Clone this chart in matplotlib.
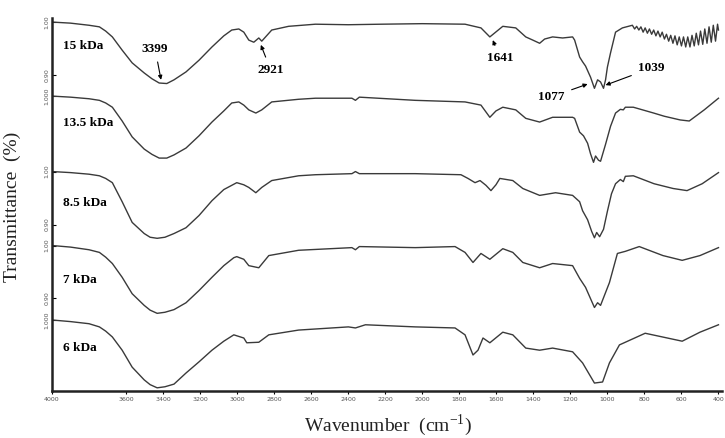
import numpy as np
import matplotlib
matplotlib.use("Agg")
import matplotlib.pyplot as plt

# FTIR spectra, transmittance (each curve normalised to 1.00 at 4000 cm-1)
wn_15 = [4000, 3900, 3800, 3744, 3710, 3674, 3621, 3567, 3502, 3460, 3421, 3380, 3341, 3276, 3206, 3136,
         3072, 3029, 2991, 2964, 2937, 2910, 2883, 2867, 2813, 2722, 2577, 2400, 2221, 2000, 1769,
         1683, 1635, 1565, 1495, 1441, 1403, 1366, 1339, 1296, 1242, 1188, 1177, 1150, 1134, 1118,
         1091, 1070, 1053, 1037, 1021, 1010, 1000, 983, 956, 919, 865,
         853, 842, 830, 819, 807, 796, 784, 773, 761, 750, 738, 727, 715, 704, 692, 681, 669,
         658, 646, 635, 623, 612, 600, 589, 577, 566, 554, 543, 531, 520, 508, 497, 485, 474,
         462, 451, 439, 428, 416, 405, 400]
t_15 = [1.000, 0.998, 0.994, 0.991, 0.983, 0.972, 0.947, 0.923, 0.904, 0.893, 0.885, 0.884, 0.891, 0.906,
        0.928, 0.953, 0.974, 0.985, 0.987, 0.981, 0.966, 0.962, 0.970, 0.964, 0.985, 0.992, 0.996, 0.995,
        0.996, 0.997, 0.996, 0.989, 0.972, 0.992, 0.989, 0.972, 0.966, 0.960, 0.968, 0.972, 0.970, 0.972,
        0.966, 0.934, 0.925, 0.917, 0.896, 0.875, 0.891, 0.887, 0.875, 0.891, 0.915, 0.942, 0.981, 0.989,
        0.994,
        0.987, 0.992, 0.985, 0.991, 0.981, 0.989, 0.979, 0.987, 0.977, 0.985, 0.974, 0.983, 0.972, 0.981, 0.968, 0.977, 0.964,
        0.975, 0.960, 0.974, 0.957, 0.972, 0.955, 0.972, 0.953, 0.972, 0.953, 0.975, 0.955, 0.979, 0.957, 0.983, 0.958, 0.987,
        0.960, 0.991, 0.962, 0.994, 0.964, 0.996, 0.985]

wn_135 = [4000, 3900, 3800, 3744, 3710, 3674, 3621, 3567, 3502, 3460, 3421, 3380, 3341, 3276, 3206,
          3136, 3072, 3029, 2991, 2964, 2937, 2899, 2867, 2813, 2668, 2577, 2380, 2361, 2340, 2038,
          1769, 1683, 1635, 1602, 1565, 1495, 1441, 1366, 1296, 1188, 1177, 1150, 1129, 1107, 1091,
          1075, 1064, 1048, 1037, 1010, 983, 956, 930, 914, 903, 860, 750, 693, 607, 558, 477, 400]
t_135 = [1.000, 0.998, 0.995, 0.992, 0.987, 0.979, 0.953, 0.923, 0.900, 0.890, 0.883, 0.883, 0.889, 0.902,
         0.925, 0.951, 0.972, 0.987, 0.989, 0.983, 0.974, 0.968, 0.974, 0.989, 0.994, 0.996, 0.996, 0.992,
         0.998, 0.992, 0.989, 0.983, 0.960, 0.972, 0.979, 0.974, 0.958, 0.951, 0.960, 0.960, 0.958, 0.932,
         0.925, 0.911, 0.891, 0.875, 0.887, 0.879, 0.877, 0.909, 0.943, 0.968, 0.975, 0.974, 0.979, 0.979,
         0.968, 0.962, 0.955, 0.953, 0.974, 0.996]

wn_85 = [4000, 3900, 3800, 3744, 3710, 3674, 3621, 3567, 3502, 3470, 3432, 3390, 3341, 3276, 3206,
         3136, 3072, 3002, 2964, 2937, 2899, 2867, 2813, 2668, 2577, 2380, 2361, 2340, 2038, 1791,
         1753, 1715, 1688, 1656, 1629, 1602, 1581, 1511, 1457, 1366, 1280, 1188, 1150, 1134, 1107,
         1085, 1070, 1058, 1042, 1021, 1000, 978, 956, 930, 914, 903, 860, 748, 645, 570, 488, 400]
t_85 = [1.000, 0.998, 0.995, 0.992, 0.987, 0.979, 0.943, 0.904, 0.883, 0.876, 0.874, 0.876, 0.883, 0.894,
        0.917, 0.945, 0.966, 0.979, 0.975, 0.970, 0.960, 0.970, 0.983, 0.992, 0.994, 0.996, 1.000, 0.996,
        0.996, 0.994, 0.987, 0.979, 0.983, 0.974, 0.964, 0.975, 0.987, 0.983, 0.968, 0.955, 0.960, 0.955,
        0.943, 0.926, 0.909, 0.887, 0.875, 0.885, 0.877, 0.891, 0.925, 0.958, 0.977, 0.985, 0.981, 0.991,
        0.992, 0.977, 0.968, 0.964, 0.977, 0.998]

wn_7 = [4000, 3900, 3800, 3744, 3710, 3674, 3621, 3567, 3502, 3470, 3432, 3390, 3341, 3276, 3206,
        3136, 3072, 3018, 3002, 2964, 2937, 2883, 2829, 2668, 2380, 2361, 2340, 2038, 1823, 1769,
        1726, 1683, 1635, 1565, 1511, 1457, 1366, 1296, 1188, 1150, 1118, 1070, 1053, 1037, 989,
        946, 903, 828, 700, 596, 500, 400]
t_7 = [1.000, 0.997, 0.992, 0.987, 0.978, 0.966, 0.940, 0.909, 0.887, 0.878, 0.872, 0.874, 0.879, 0.892,
       0.915, 0.940, 0.962, 0.977, 0.979, 0.974, 0.962, 0.958, 0.981, 0.991, 0.996, 0.992, 0.998, 0.996,
       0.998, 0.987, 0.968, 0.985, 0.974, 0.994, 0.987, 0.968, 0.958, 0.966, 0.962, 0.938, 0.921, 0.883,
       0.892, 0.887, 0.930, 0.985, 0.989, 0.998, 0.981, 0.972, 0.981, 0.996]

wn_6 = [4000, 3900, 3800, 3744, 3710, 3674, 3621, 3567, 3502, 3470, 3432, 3390, 3341, 3276, 3206,
        3136, 3072, 3018, 2964, 2948, 2883, 2829, 2668, 2399, 2361, 2307, 2038, 1823, 1769, 1726,
        1699, 1672, 1635, 1565, 1511, 1441, 1366, 1296, 1188, 1134, 1070, 1026, 989, 935, 796,
        596, 500, 400]
t_6 = [1.000, 0.997, 0.993, 0.987, 0.979, 0.968, 0.943, 0.911, 0.887, 0.878, 0.872, 0.874, 0.879, 0.900,
       0.921, 0.943, 0.960, 0.972, 0.966, 0.957, 0.958, 0.972, 0.981, 0.987, 0.985, 0.991, 0.987, 0.985,
       0.972, 0.934, 0.943, 0.966, 0.957, 0.977, 0.972, 0.947, 0.943, 0.947, 0.940, 0.919, 0.881, 0.883,
       0.919, 0.953, 0.975, 0.960, 0.977, 0.991]

labels = ["15 kDa", "13.5 kDa", "8.5 kDa", "7 kDa", "6 kDa"]
wavenumbers = [wn_15, wn_135, wn_85, wn_7, wn_6]
transmittance = [t_15, t_135, t_85, t_7, t_6]
ytick_text = [["1.00", "0.90"], ["1.000"], ["1.00", "0.90"], ["1.00", "0.90"], ["1.000"]]
ytick_vals = [[1.00, 0.90], [1.00], [1.00, 0.90], [1.00, 0.90], [1.00]]

# peak annotations on the 15 kDa trace: label, arrow tip (wn, T), text position (wn, T)
peaks = ["3399", "2921", "1641", "1077", "1039"]
peak_tip = [(3411, 0.891), (2872, 0.957), (1619, 0.966), (1107, 0.883), (1010, 0.881)]
peak_txt = [(3443, 0.949), (2819, 0.910), (1581, 0.932), (1301, 0.859), (763, 0.913)]

xticks = [4000, 3600, 3400, 3200, 3000, 2800, 2600, 2400, 2200, 2000, 1800, 1600, 1400, 1200, 1000, 800, 600, 400]

# vertical stacking
offsets = [0.5623, 0.4226, 0.2802, 0.1406, 0.0]
label_y = [0.955, 0.950, 0.941, 0.934, 0.947]

serif = ["Liberation Serif", "DejaVu Serif"]
plt.rcParams["mathtext.fontset"] = "custom"
plt.rcParams["mathtext.rm"] = "Liberation Serif"

fig = plt.figure(figsize=(7.25, 4.38), dpi=100)
ax = fig.add_axes([52 / 725, 1 - 391 / 438, 670 / 725, 373 / 438])

for wn, t, off in zip(wavenumbers, transmittance, offsets):
    ax.plot(wn, np.array(t) + off, color="#3a3a3a", lw=1.0)

for lab, off, ly in zip(labels, offsets, label_y):
    ax.text(3938, ly + off, lab, family=serif, fontweight="bold", fontsize=9.5,
            ha="left", va="center")

off15 = offsets[0]
for p, tip, txt in zip(peaks, peak_tip, peak_txt):
    ax.annotate(p, xy=(tip[0], tip[1] + off15), xytext=(txt[0], txt[1] + off15),
                family=serif, fontweight="bold", fontsize=9.5, ha="center", va="center",
                arrowprops=dict(arrowstyle="-|>", color="black", lw=0.8,
                                mutation_scale=6, shrinkA=3, shrinkB=0))

yt, ytl = [], []
for vals, txts, off in zip(ytick_vals, ytick_text, offsets):
    for v, s in zip(vals, txts):
        yt.append(v + off)
        ytl.append(s)
ax.set_yticks(yt)
ax.set_yticklabels(ytl, rotation=90, va="center", fontsize=4.5, color="#555555")
ax.tick_params(axis="y", direction="in", length=3, width=0.8, pad=2)

ax.set_xticks(xticks)
ax.set_xticklabels([str(x) for x in xticks], fontsize=4.5, color="#555555")
ax.tick_params(axis="x", direction="out", length=2, width=0.8, pad=2)

ax.set_xlim(4000, 381)
ax.set_ylim(0.866, 1.570)

for s in ["top", "right"]:
    ax.spines[s].set_visible(False)
for s in ["left", "bottom"]:
    ax.spines[s].set_linewidth(1.8)
    ax.spines[s].set_color("#222222")

fig.text(0.017, 0.527, "Transmittance  (%)", rotation=90, family=serif, fontsize=14,
         ha="center", va="center", color="#222222")
fig.text(0.535, 0.030, "Wavenumber  (cm$^{\\mathregular{-1}}$)", family=serif, fontsize=14,
         ha="center", va="center", color="#222222")

fig.savefig("out.png", dpi=100)
